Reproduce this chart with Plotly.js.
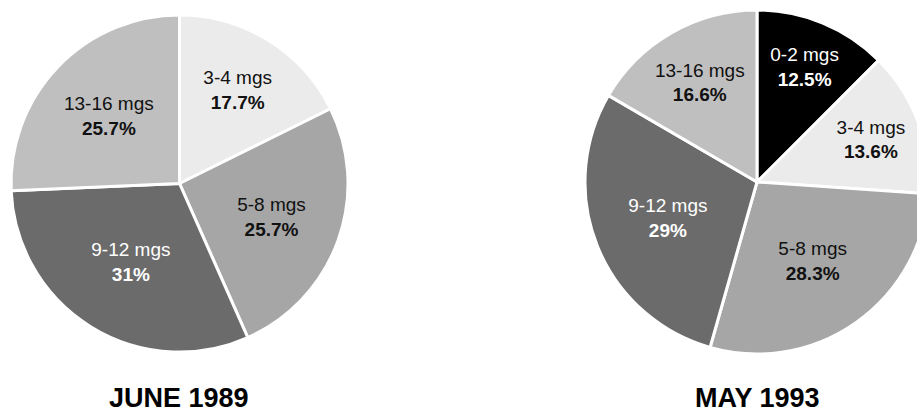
<!DOCTYPE html>
<html>
<head>
<meta charset="utf-8">
<script src="https://cdn.plot.ly/plotly-3.0.1.min.js"></script>
<style>
html,body{margin:0;padding:0;overflow:hidden;background:#fff;width:917px;height:417px;}
#chart{width:940px;height:417px;}
</style>
</head>
<body>
<div id="chart"></div>
<script>
// Data
const labels1989 = ["3-4 mgs", "5-8 mgs", "9-12 mgs", "13-16 mgs"];
const values1989 = [17.7, 25.7, 31, 25.7];
const colors1989 = ["#ebebeb", "#a6a6a6", "#6b6b6b", "#bfbfbf"];
const textColors1989 = ["#111111", "#111111", "#ffffff", "#111111"];

const labels1993 = ["0-2 mgs", "3-4 mgs", "5-8 mgs", "9-12 mgs", "13-16 mgs"];
const values1993 = [12.5, 13.6, 28.3, 29, 16.6];
const colors1993 = ["#000000", "#ebebeb", "#a6a6a6", "#6b6b6b", "#bfbfbf"];
const textColors1993 = ["#ffffff", "#111111", "#111111", "#ffffff", "#111111"];

const titles = ["JUNE 1989", "MAY 1993"];

const FONT = "'Liberation Sans', Arial, sans-serif";

function pieTrace(labels, values, colors, textColors, domain) {
  return {
    type: "pie",
    labels: labels,
    values: values,
    sort: false,
    direction: "clockwise",
    rotation: 0,
    marker: {colors: colors, line: {color: "#ffffff", width: 3}},
    textinfo: "text",
    texttemplate: "%{label}<br><b>%{value}%</b>",
    textposition: "inside",
    insidetextorientation: "horizontal",
    insidetextfont: {family: FONT, size: 19, color: textColors},
    hoverinfo: "none",
    showlegend: false,
    domain: domain
  };
}

const W = 940, H = 417;
const data = [
  pieTrace(labels1989, values1989, colors1989, textColors1989,
    {x: [(179.5 - 168.5) / W, (179.5 + 168.5) / W], y: [1 - 352 / H, 1 - 15 / H]}),
  pieTrace(labels1993, values1993, colors1993, textColors1993,
    {x: [(757 - 172) / W, (757 + 172) / W], y: [1 - 354 / H, 1 - 10 / H]})
];

const layout = {
  width: W,
  height: H,
  margin: {l: 0, r: 0, t: 0, b: 0, pad: 0},
  paper_bgcolor: "#ffffff",
  plot_bgcolor: "#ffffff",
  showlegend: false,
  annotations: [
    {text: "<b>" + titles[0] + "</b>", xref: "paper", yref: "paper", x: 179 / W, y: 1 - 398 / H,
     xanchor: "center", yanchor: "middle", showarrow: false, font: {family: FONT, size: 27, color: "#000"}},
    {text: "<b>" + titles[1] + "</b>", xref: "paper", yref: "paper", x: 757.5 / W, y: 1 - 398 / H,
     xanchor: "center", yanchor: "middle", showarrow: false, font: {family: FONT, size: 27, color: "#000"}}
  ]
};

Plotly.newPlot("chart", data, layout, {displayModeBar: false, staticPlot: true});
</script>
</body>
</html>
